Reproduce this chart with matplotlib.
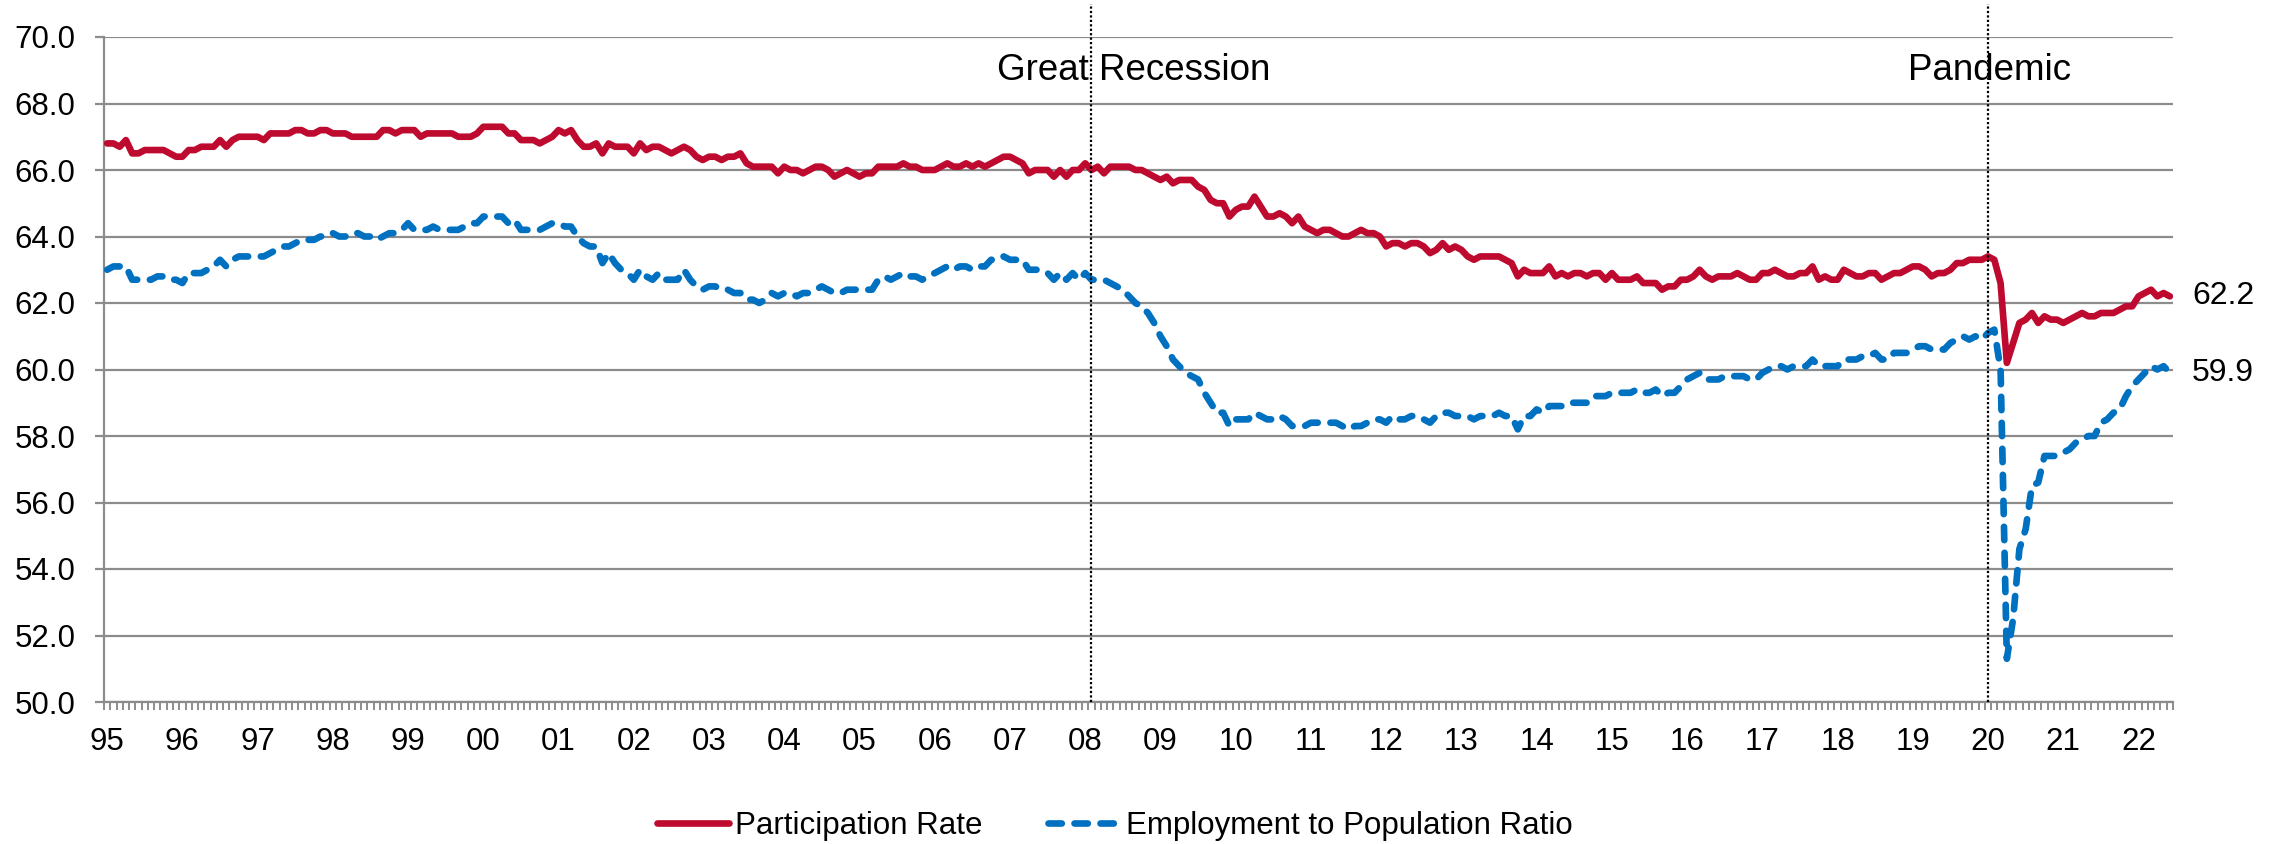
import matplotlib
matplotlib.use("Agg")
import matplotlib.pyplot as plt
import numpy as np

plt.rcParams['font.family'] = ['Liberation Sans', 'DejaVu Sans']

# Year tick labels (Jan 1995 .. Jun 2022, monthly)
year_labels = ['95', '96', '97', '98', '99', '00', '01', '02', '03', '04', '05', '06', '07',
               '08', '09', '10', '11', '12', '13', '14', '15', '16', '17', '18', '19', '20', '21', '22']

participation = [
    66.8, 66.8, 66.7, 66.9, 66.5, 66.5, 66.6, 66.6, 66.6, 66.6, 66.5, 66.4,  # 1995
    66.4, 66.6, 66.6, 66.7, 66.7, 66.7, 66.9, 66.7, 66.9, 67.0, 67.0, 67.0,  # 1996
    67.0, 66.9, 67.1, 67.1, 67.1, 67.1, 67.2, 67.2, 67.1, 67.1, 67.2, 67.2,  # 1997
    67.1, 67.1, 67.1, 67.0, 67.0, 67.0, 67.0, 67.0, 67.2, 67.2, 67.1, 67.2,  # 1998
    67.2, 67.2, 67.0, 67.1, 67.1, 67.1, 67.1, 67.1, 67.0, 67.0, 67.0, 67.1,  # 1999
    67.3, 67.3, 67.3, 67.3, 67.1, 67.1, 66.9, 66.9, 66.9, 66.8, 66.9, 67.0,  # 2000
    67.2, 67.1, 67.2, 66.9, 66.7, 66.7, 66.8, 66.5, 66.8, 66.7, 66.7, 66.7,  # 2001
    66.5, 66.8, 66.6, 66.7, 66.7, 66.6, 66.5, 66.6, 66.7, 66.6, 66.4, 66.3,  # 2002
    66.4, 66.4, 66.3, 66.4, 66.4, 66.5, 66.2, 66.1, 66.1, 66.1, 66.1, 65.9,  # 2003
    66.1, 66.0, 66.0, 65.9, 66.0, 66.1, 66.1, 66.0, 65.8, 65.9, 66.0, 65.9,  # 2004
    65.8, 65.9, 65.9, 66.1, 66.1, 66.1, 66.1, 66.2, 66.1, 66.1, 66.0, 66.0,  # 2005
    66.0, 66.1, 66.2, 66.1, 66.1, 66.2, 66.1, 66.2, 66.1, 66.2, 66.3, 66.4,  # 2006
    66.4, 66.3, 66.2, 65.9, 66.0, 66.0, 66.0, 65.8, 66.0, 65.8, 66.0, 66.0,  # 2007
    66.2, 66.0, 66.1, 65.9, 66.1, 66.1, 66.1, 66.1, 66.0, 66.0, 65.9, 65.8,  # 2008
    65.7, 65.8, 65.6, 65.7, 65.7, 65.7, 65.5, 65.4, 65.1, 65.0, 65.0, 64.6,  # 2009
    64.8, 64.9, 64.9, 65.2, 64.9, 64.6, 64.6, 64.7, 64.6, 64.4, 64.6, 64.3,  # 2010
    64.2, 64.1, 64.2, 64.2, 64.1, 64.0, 64.0, 64.1, 64.2, 64.1, 64.1, 64.0,  # 2011
    63.7, 63.8, 63.8, 63.7, 63.8, 63.8, 63.7, 63.5, 63.6, 63.8, 63.6, 63.7,  # 2012
    63.6, 63.4, 63.3, 63.4, 63.4, 63.4, 63.4, 63.3, 63.2, 62.8, 63.0, 62.9,  # 2013
    62.9, 62.9, 63.1, 62.8, 62.9, 62.8, 62.9, 62.9, 62.8, 62.9, 62.9, 62.7,  # 2014
    62.9, 62.7, 62.7, 62.7, 62.8, 62.6, 62.6, 62.6, 62.4, 62.5, 62.5, 62.7,  # 2015
    62.7, 62.8, 63.0, 62.8, 62.7, 62.8, 62.8, 62.8, 62.9, 62.8, 62.7, 62.7,  # 2016
    62.9, 62.9, 63.0, 62.9, 62.8, 62.8, 62.9, 62.9, 63.1, 62.7, 62.8, 62.7,  # 2017
    62.7, 63.0, 62.9, 62.8, 62.8, 62.9, 62.9, 62.7, 62.8, 62.9, 62.9, 63.0,  # 2018
    63.1, 63.1, 63.0, 62.8, 62.9, 62.9, 63.0, 63.2, 63.2, 63.3, 63.3, 63.3,  # 2019
    63.4, 63.3, 62.6, 60.2, 60.8, 61.4, 61.5, 61.7, 61.4, 61.6, 61.5, 61.5,  # 2020
    61.4, 61.5, 61.6, 61.7, 61.6, 61.6, 61.7, 61.7, 61.7, 61.8, 61.9, 61.9,  # 2021
    62.2, 62.3, 62.4, 62.2, 62.3, 62.2,                                      # 2022
]

employment_ratio = [
    63.0, 63.1, 63.1, 63.1, 62.7, 62.7, 62.7, 62.7, 62.8, 62.8, 62.7, 62.7,  # 1995
    62.6, 62.9, 62.9, 62.9, 63.0, 63.1, 63.3, 63.1, 63.3, 63.4, 63.4, 63.4,  # 1996
    63.4, 63.4, 63.5, 63.6, 63.7, 63.7, 63.8, 63.9, 63.9, 63.9, 64.0, 64.0,  # 1997
    64.1, 64.0, 64.0, 64.1, 64.1, 64.0, 64.0, 63.9, 64.0, 64.1, 64.1, 64.2,  # 1998
    64.4, 64.2, 64.2, 64.2, 64.3, 64.2, 64.2, 64.2, 64.2, 64.3, 64.4, 64.4,  # 1999
    64.6, 64.6, 64.6, 64.6, 64.4, 64.5, 64.2, 64.2, 64.2, 64.2, 64.3, 64.4,  # 2000
    64.4, 64.3, 64.3, 64.0, 63.8, 63.7, 63.7, 63.2, 63.5, 63.2, 63.0, 62.9,  # 2001
    62.7, 63.0, 62.8, 62.7, 62.9, 62.7, 62.7, 62.7, 63.0, 62.7, 62.5, 62.4,  # 2002
    62.5, 62.5, 62.4, 62.4, 62.3, 62.3, 62.1, 62.1, 62.0, 62.1, 62.3, 62.2,  # 2003
    62.3, 62.3, 62.2, 62.3, 62.3, 62.4, 62.5, 62.4, 62.3, 62.3, 62.4, 62.4,  # 2004
    62.4, 62.4, 62.4, 62.7, 62.8, 62.7, 62.8, 62.9, 62.8, 62.8, 62.7, 62.8,  # 2005
    62.9, 63.0, 63.1, 63.0, 63.1, 63.1, 63.0, 63.1, 63.1, 63.3, 63.3, 63.4,  # 2006
    63.3, 63.3, 63.3, 63.0, 63.0, 63.0, 62.9, 62.7, 62.9, 62.7, 62.9, 62.7,  # 2007
    62.9, 62.7, 62.7, 62.7, 62.6, 62.5, 62.4, 62.2, 62.0, 61.9, 61.7, 61.4,  # 2008
    61.0, 60.7, 60.3, 60.1, 59.9, 59.8, 59.7, 59.3, 59.0, 58.7, 58.7, 58.3,  # 2009
    58.5, 58.5, 58.5, 58.7, 58.6, 58.5, 58.5, 58.6, 58.5, 58.3, 58.3, 58.3,  # 2010
    58.4, 58.4, 58.4, 58.4, 58.4, 58.3, 58.2, 58.3, 58.3, 58.4, 58.5, 58.5,  # 2011
    58.4, 58.6, 58.5, 58.5, 58.6, 58.6, 58.5, 58.4, 58.6, 58.7, 58.7, 58.6,  # 2012
    58.6, 58.6, 58.5, 58.6, 58.6, 58.6, 58.7, 58.6, 58.6, 58.2, 58.6, 58.6,  # 2013
    58.8, 58.7, 58.9, 58.9, 58.9, 59.0, 59.0, 59.0, 59.0, 59.2, 59.2, 59.2,  # 2014
    59.3, 59.3, 59.3, 59.3, 59.4, 59.3, 59.3, 59.4, 59.2, 59.3, 59.3, 59.5,  # 2015
    59.7, 59.8, 59.9, 59.7, 59.7, 59.7, 59.8, 59.8, 59.8, 59.8, 59.7, 59.7,  # 2016
    59.9, 60.0, 60.1, 60.1, 60.0, 60.1, 60.1, 60.1, 60.3, 60.1, 60.1, 60.1,  # 2017
    60.1, 60.3, 60.3, 60.3, 60.4, 60.4, 60.5, 60.3, 60.3, 60.5, 60.5, 60.5,  # 2018
    60.6, 60.7, 60.7, 60.6, 60.6, 60.6, 60.8, 60.9, 61.0, 60.9, 61.0, 60.9,  # 2019
    61.1, 61.2, 60.0, 51.3, 52.5, 54.6, 55.2, 56.5, 56.6, 57.4, 57.4, 57.4,  # 2020
    57.5, 57.6, 57.8, 57.9, 58.0, 58.0, 58.4, 58.5, 58.7, 58.8, 59.2, 59.5,  # 2021
    59.7, 59.9, 60.1, 60.0, 60.1, 59.9,                                      # 2022
]

events = ['Great Recession', 'Pandemic']
event_month_index = [157, 300]      # Feb 2008, Jan 2020
event_label_x = [142.5, 287.7]

RED = '#BE0A2F'
BLUE = '#0070C0'
GRID = '#8C8C8C'

fig = plt.figure(figsize=(22.87, 8.44), dpi=100)
ax = fig.add_axes([104 / 2287, 1 - 702 / 844, (2173 - 104) / 2287, (702 - 37) / 844])

n = len(participation)
x = np.arange(n) + 0.5

ax.plot(x, participation, color=RED, lw=4.8, solid_joinstyle='round',
        solid_capstyle='round', label='Participation Rate', zorder=4)
ax.plot(x, employment_ratio, color=BLUE, lw=4.8, dashes=(2.0, 1.9),
        dash_capstyle='round', dash_joinstyle='round',
        label='Employment to Population Ratio', zorder=3)

ax.set_xlim(0, n)
ax.set_ylim(50, 70)
ax.set_yticks(np.arange(50, 70.1, 2))
ax.set_yticklabels([f'{v:.1f}' for v in np.arange(50, 70.1, 2)])
ax.yaxis.grid(True, color=GRID, lw=1.6)
ax.set_axisbelow(True)

ax.set_xticks(np.arange(len(year_labels)) * 12 + 0.5)
ax.set_xticklabels(year_labels)
ax.set_xticks(np.arange(0, n + 1), minor=True)
ax.tick_params(axis='x', which='major', length=0, pad=18, labelsize=22.5)
ax.tick_params(axis='x', which='minor', length=5.8, width=1.4, color=GRID, direction='out')
ax.tick_params(axis='y', which='major', length=6.5, width=1.6, color=GRID, pad=14, labelsize=22.5)

for s in ['top', 'right']:
    ax.spines[s].set_visible(False)
for s in ['left', 'bottom']:
    ax.spines[s].set_color(GRID)
    ax.spines[s].set_linewidth(1.6)

for name, mi, lx in zip(events, event_month_index, event_label_x):
    ax.plot([mi + 0.5, mi + 0.5], [50, 71.0], color='black', lw=1.6,
            linestyle=(0, (1, 1)), clip_on=False, zorder=5)
    ax.text(lx, 69.0, name, fontsize=26.5, ha='left', va='center', zorder=6)

ax.annotate(f'{participation[-1]:.1f}', xy=(x[-1], participation[-1]),
            xytext=(16, 0), textcoords='offset points', fontsize=23,
            va='center', ha='left', annotation_clip=False)
ax.annotate(f'{employment_ratio[-1]:.1f}', xy=(x[-1], employment_ratio[-1]),
            xytext=(16, 0), textcoords='offset points', fontsize=23,
            va='center', ha='left', annotation_clip=False)

fig.legend(loc='center', bbox_to_anchor=(1115 / 2287, 1 - 826 / 844), ncol=2,
           frameon=False, fontsize=22.5, handlelength=2.3, handletextpad=0.2,
           columnspacing=2.1)

fig.savefig('out.png', dpi=100)
